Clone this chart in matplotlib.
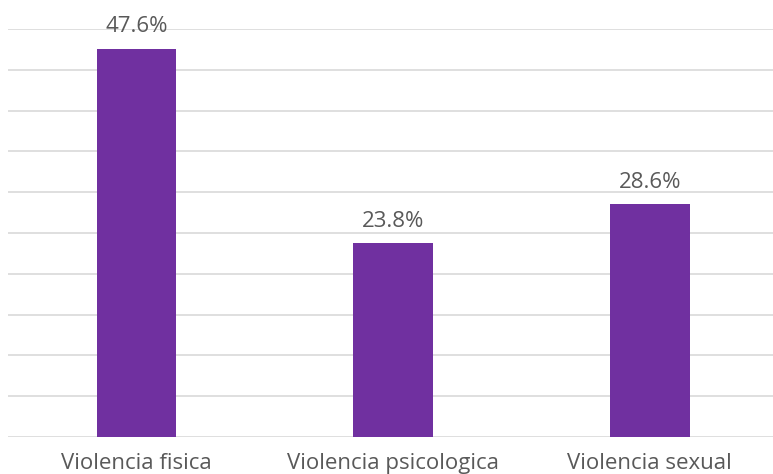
import matplotlib.pyplot as plt
import numpy as np

plt.rcParams['font.family'] = ['Open Sans', 'DejaVu Sans']

categorias = ["Violencia fisica", "Violencia psicologica", "Violencia sexual"]
valores = [47.6, 23.8, 28.6]
etiquetas = ["47.6%", "23.8%", "28.6%"]

fig = plt.figure(figsize=(7.73, 4.74), dpi=100)
ax = fig.add_axes([8/773, 1 - 437/474, 1 - 8/773, (437 - 29)/474])

x = np.arange(len(categorias))
bars = ax.bar(x, valores, width=0.31, color="#7030A0", zorder=3)

for b, lab in zip(bars, etiquetas):
    ax.annotate(lab, (b.get_x() + b.get_width()/2, b.get_height()),
                xytext=(0, 8), textcoords="offset points",
                ha="center", va="bottom", fontsize=16, color="#595959")

ax.set_ylim(0, 50)
ax.set_xlim(-0.5, 2.48)
ax.set_yticks(np.arange(0, 51, 5))
ax.yaxis.grid(True, color="#d9d9d9", linewidth=1.2, zorder=0)
ax.tick_params(axis="y", left=False, labelleft=False)
ax.tick_params(axis="x", bottom=False, labelsize=16, labelcolor="#595959", pad=8)
ax.set_xticks(x)
ax.set_xticklabels(categorias)
for s in ax.spines.values():
    s.set_visible(False)

fig.savefig("out.png", dpi=100)
